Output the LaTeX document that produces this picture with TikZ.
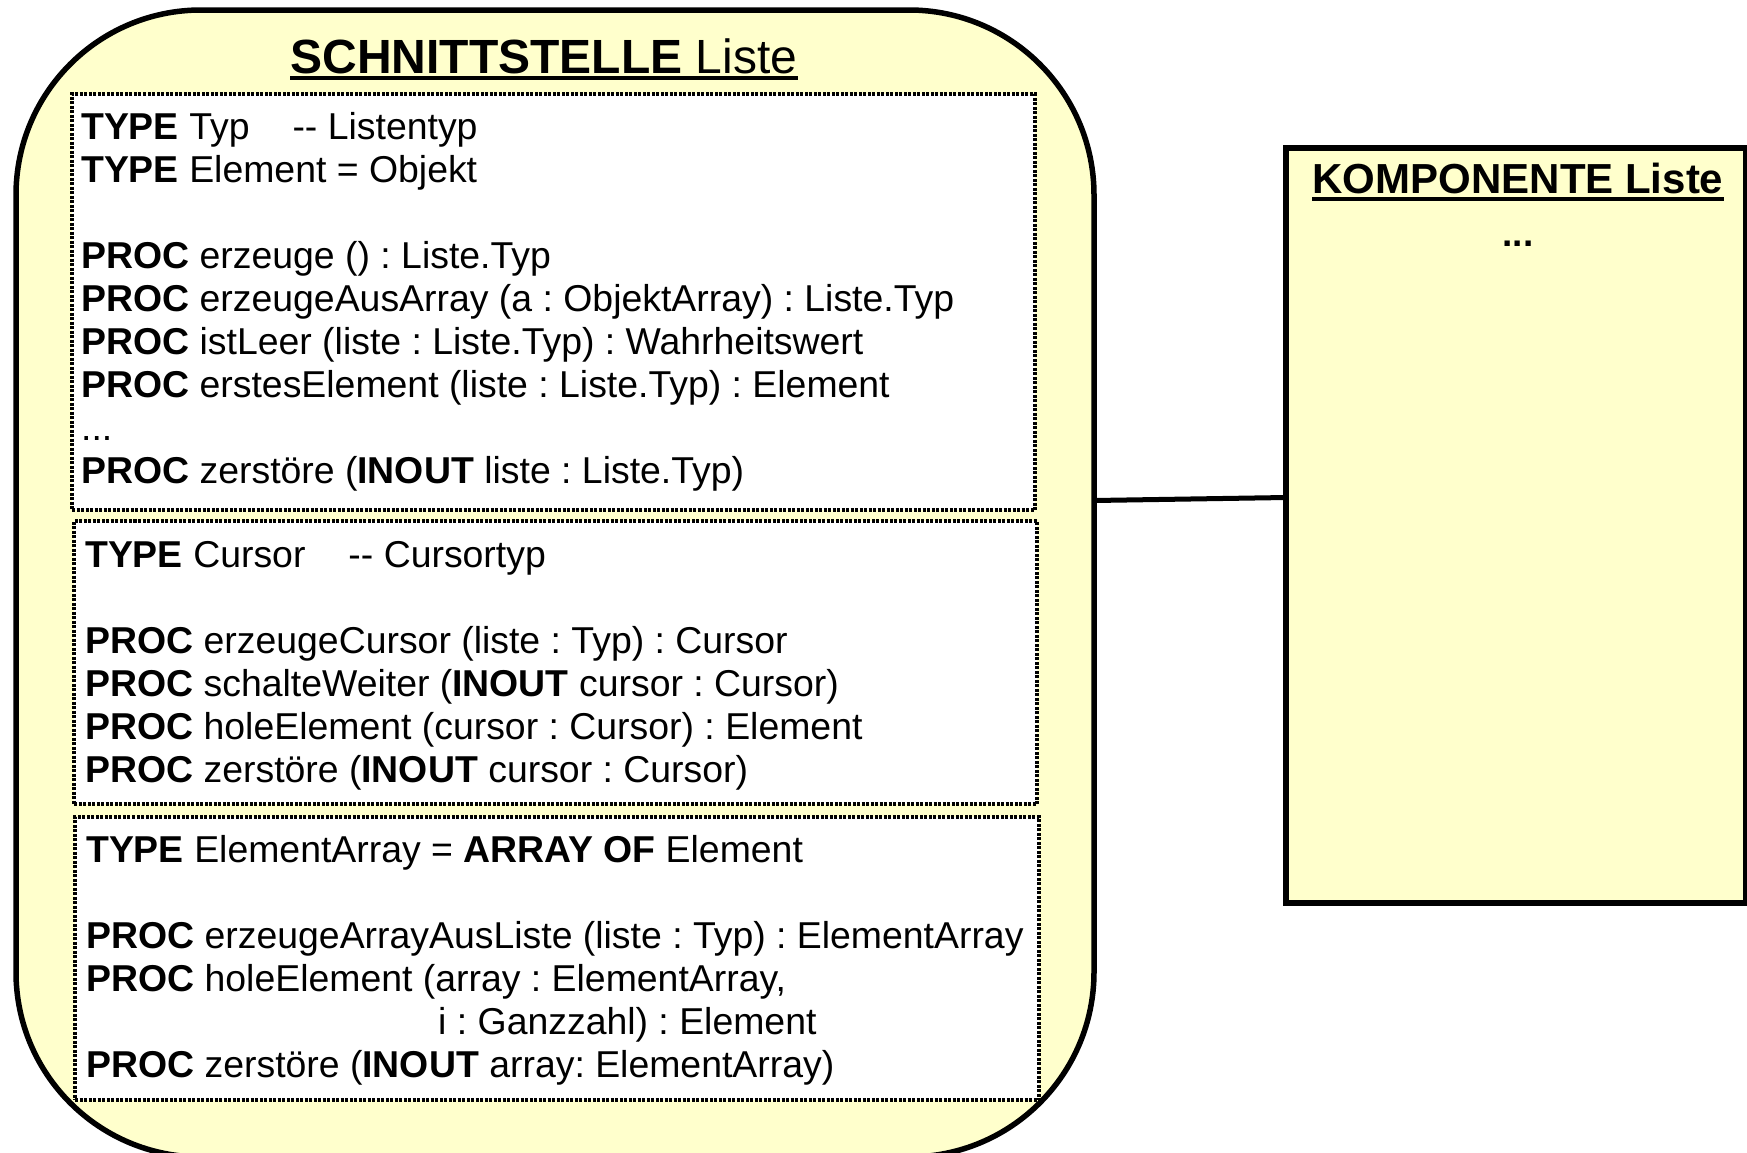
\documentclass[tikz,border=0pt]{standalone}
\usepackage{fontspec}
\setmainfont{Liberation Sans}
\definecolor{note}{HTML}{FFFFCC}
\frenchspacing
\begin{document}
\begin{tikzpicture}[x=1pt,y=-1pt,
  txt/.style={anchor=base west, inner sep=0pt, font=\fontsize{37.4}{43}\selectfont},
  dotbox/.style={draw, line width=3.5pt, dash pattern=on 3pt off 1.5pt, fill=white,
    anchor=north west, inner sep=0pt, outer sep=0pt},
  heavy/.style={draw, line width=5.5pt, fill=note, inner sep=0pt, outer sep=0pt, anchor=north west},
  uline/.style={line width=4pt}]
\useasboundingbox (0,0) rectangle (1747,1152);

% outer rounded box (Schnittstelle)
\node[heavy, rounded corners=185pt, minimum width=1078pt, minimum height=1147pt] (sch) at (16,10) {};
% component box
\node[heavy, minimum width=460pt, minimum height=755pt] (komp) at (1286,148) {};
% connector
\draw[line width=5pt] ([yshift=83pt]sch.east) -- ([yshift=28pt]komp.west);

% title
\node[anchor=base, inner sep=0pt, font=\fontsize{48}{56}\selectfont] (title) at (544,73) {\textbf{SCHNITTSTELLE} Liste};
\draw[uline] ([yshift=-5pt]title.base west) -- ([yshift=-5pt]title.base east);

% dotted boxes
\node[dotbox, minimum width=963pt, minimum height=416pt] (b1) at (72,94) {};
\node[dotbox, minimum width=963pt, minimum height=283pt] (b2) at (74,521) {};
\node[dotbox, minimum width=964pt, minimum height=283pt] (b3) at (75,817) {};

% box 1 text
\node[txt] (t11) at (81,139) {\textbf{TYPE} Typ\hspace{43pt}-{}- Listentyp};
\node[txt] (t12) at (81,182) {\textbf{TYPE} Element = Objekt};
\node[txt] (t13) at (81,268) {\textbf{PROC} erzeuge () : Liste.Typ};
\node[txt] (t14) at (81,311) {\textbf{PROC} erzeugeAusArray (a : ObjektArray) : Liste.Typ};
\node[txt] (t15) at (81,354) {\textbf{PROC} istLeer (liste : Liste.Typ) : Wahrheitswert};
\node[txt] (t16) at (81,397) {\textbf{PROC} erstesElement (liste : Liste.Typ) : Element};
\node[txt] (t17) at (81,440) {...};
\node[txt] (t18) at (81,483) {\textbf{PROC} zerstöre (\textbf{INOUT} liste : Liste.Typ)};

% box 2 text
\node[txt] (t21) at (85,567) {\textbf{TYPE} Cursor\hspace{43pt}-{}- Cursortyp};
\node[txt] (t22) at (85,653) {\textbf{PROC} erzeugeCursor (liste : Typ) : Cursor};
\node[txt] (t23) at (85,696) {\textbf{PROC} schalteWeiter (\textbf{INOUT} cursor : Cursor)};
\node[txt] (t24) at (85,739) {\textbf{PROC} holeElement (cursor : Cursor) : Element};
\node[txt] (t25) at (85,782) {\textbf{PROC} zerstöre (\textbf{INOUT} cursor : Cursor)};

% box 3 text
\node[txt] (t31) at (86,862) {\textbf{TYPE} ElementArray = \textbf{ARRAY OF} Element};
\node[txt] (t32) at (86,948) {\textbf{PROC} erzeugeArrayAusListe (liste : Typ) : ElementArray};
\node[txt] (t33) at (86,991) {\textbf{PROC} holeElement (array : ElementArray,};
\node[txt] (t34) at (438,1034) {i : Ganzzahl) : Element};
\node[txt] (t35) at (86,1077) {\textbf{PROC} zerstöre (\textbf{INOUT} array: ElementArray)};

% component title
\node[anchor=base, inner sep=0pt, font=\fontsize{42}{50}\selectfont\bfseries] (ktitle) at (1518,193) {KOMPONENTE Liste};
\draw[uline] ([yshift=-6pt]ktitle.base west) -- ([yshift=-6pt]ktitle.base east);
\node[anchor=base, inner sep=0pt, font=\fontsize{37}{43}\selectfont\bfseries] (kdots) at (1518,246) {...};
\end{tikzpicture}
\end{document}
